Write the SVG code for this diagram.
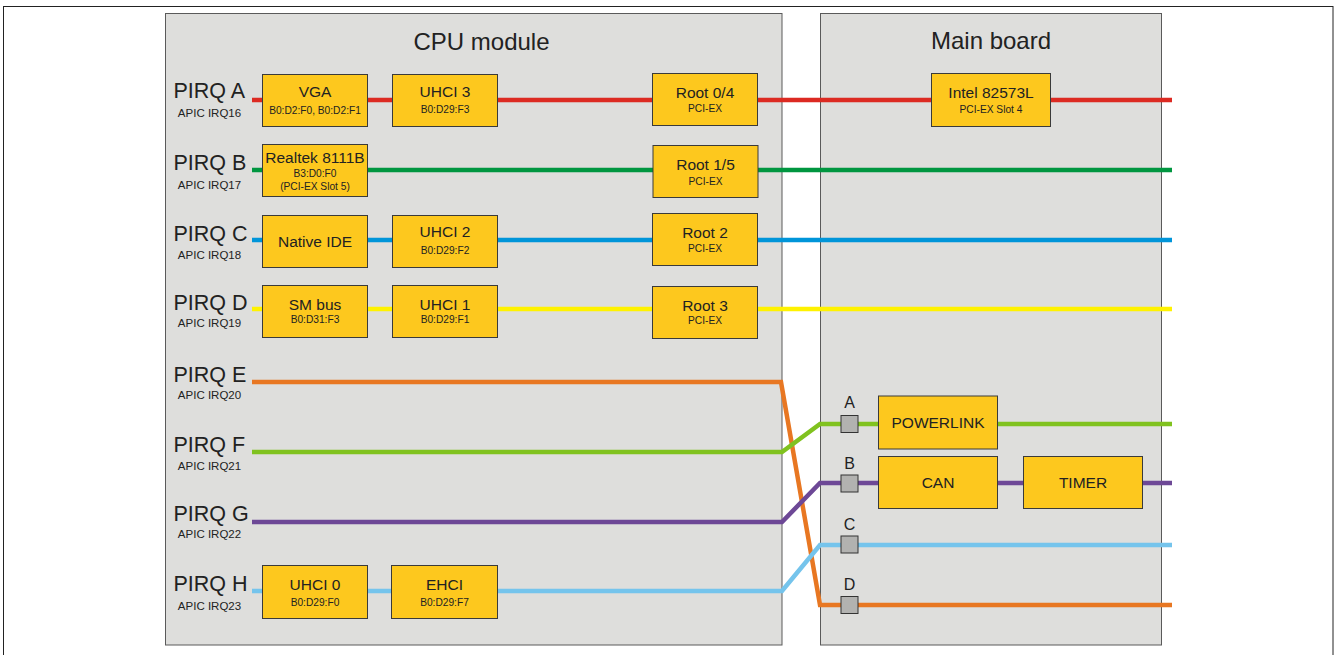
<svg xmlns="http://www.w3.org/2000/svg" width="1336" height="655" viewBox="0 0 1336 655">
<style>
text{font-family:"Liberation Sans",Arial,sans-serif;fill:#222}
.board{fill:#dededc;stroke:#5a5a5a;stroke-width:1}
.title{font-size:24px;text-anchor:middle}
.pirq{font-size:21.5px}
.apic{font-size:11.5px;text-anchor:middle}
.box{fill:#fdc81e;stroke:#3a3a3a;stroke-width:1}
.lbl{font-size:15.5px;text-anchor:middle}
.sub{font-size:10.2px;text-anchor:middle}
.ln{fill:none;stroke-width:4.5;stroke-linejoin:miter}
.sq{fill:#b2b2b0;stroke:#333;stroke-width:1}
.port{font-size:16px;text-anchor:middle}
</style>
<rect x="0" y="0" width="1336" height="655" fill="#fff"/>
<rect x="3.5" y="6.5" width="1329.5" height="660" fill="none" stroke="#222" stroke-width="1"/>
<g id="cpu-module">
<rect class="board" x="165.5" y="13.5" width="616.5" height="631.5"/>
<text class="title" x="481.5" y="50">CPU module</text>
<text class="pirq" x="173.5" y="98">PIRQ A</text><text class="apic" x="209.5" y="117">APIC IRQ16</text>
<text class="pirq" x="173.5" y="170">PIRQ B</text><text class="apic" x="209.5" y="189">APIC IRQ17</text>
<text class="pirq" x="173.5" y="241">PIRQ C</text><text class="apic" x="209.5" y="259">APIC IRQ18</text>
<text class="pirq" x="173.5" y="310">PIRQ D</text><text class="apic" x="209.5" y="327">APIC IRQ19</text>
<text class="pirq" x="173.5" y="382">PIRQ E</text><text class="apic" x="209.5" y="399">APIC IRQ20</text>
<text class="pirq" x="173.5" y="452">PIRQ F</text><text class="apic" x="209.5" y="470">APIC IRQ21</text>
<text class="pirq" x="173.5" y="521">PIRQ G</text><text class="apic" x="209.5" y="538">APIC IRQ22</text>
<text class="pirq" x="173.5" y="591">PIRQ H</text><text class="apic" x="209.5" y="610">APIC IRQ23</text>
</g>
<g id="main-board">
<rect class="board" x="820.5" y="13.5" width="341" height="631.5"/>
<text class="title" x="991" y="49">Main board</text>
</g>
<g id="connectors">
<polyline class="ln" stroke="#dc2a22" points="252,100 1172,100"/>
<polyline class="ln" stroke="#009640" points="252,170 1172,170"/>
<polyline class="ln" stroke="#0095d9" points="252,240 1172,240"/>
<polyline class="ln" stroke="#fff200" points="252,309 1172,309"/>
<polyline class="ln" stroke="#e87722" points="252,382 781,382 820,605 1172,605"/>
<polyline class="ln" stroke="#80c21f" points="252,452 782,452 820,424 1172,424"/>
<polyline class="ln" stroke="#6d4896" points="252,522 782,522 820,483 1172,483"/>
<polyline class="ln" stroke="#75c4ec" points="252,591 782,591 820,545 1172,545"/>
</g>
<g id="vga"><rect class="box" x="262.5" y="74.5" width="105" height="52"/><text class="lbl" x="315" y="97">VGA</text><text class="sub" x="315" y="114">B0:D2:F0, B0:D2:F1</text></g>
<g id="uhci3"><rect class="box" x="392.5" y="74.5" width="105" height="52"/><text class="lbl" x="445" y="97">UHCI 3</text><text class="sub" x="445" y="113">B0:D29:F3</text></g>
<g id="root04"><rect class="box" x="652.5" y="73.5" width="105" height="52"/><text class="lbl" x="705" y="98">Root 0/4</text><text class="sub" x="705" y="112">PCI-EX</text></g>
<g id="intel"><rect class="box" x="931.5" y="73.5" width="119" height="53"/><text class="lbl" x="991" y="98">Intel 82573L</text><text class="sub" x="991" y="113">PCI-EX Slot 4</text></g>
<g id="realtek"><rect class="box" x="262.5" y="144.5" width="105" height="52"/><text class="lbl" x="315" y="163">Realtek 8111B</text><text class="sub" x="315" y="177">B3:D0:F0</text><text class="sub" x="315" y="190">(PCI-EX Slot 5)</text></g>
<g id="root15"><rect class="box" x="653" y="145.5" width="105" height="52"/><text class="lbl" x="705.5" y="170">Root 1/5</text><text class="sub" x="705.5" y="185">PCI-EX</text></g>
<g id="nativeide"><rect class="box" x="262.5" y="215.5" width="105" height="52"/><text class="lbl" x="315" y="247">Native IDE</text></g>
<g id="uhci2"><rect class="box" x="392.5" y="215.5" width="105" height="52"/><text class="lbl" x="445" y="237">UHCI 2</text><text class="sub" x="445" y="254">B0:D29:F2</text></g>
<g id="root2"><rect class="box" x="652.5" y="213.5" width="105" height="52"/><text class="lbl" x="705" y="238">Root 2</text><text class="sub" x="705" y="252">PCI-EX</text></g>
<g id="smbus"><rect class="box" x="262.5" y="285.5" width="105" height="52"/><text class="lbl" x="315" y="310">SM bus</text><text class="sub" x="315" y="323">B0:D31:F3</text></g>
<g id="uhci1"><rect class="box" x="392.5" y="285.5" width="105" height="52"/><text class="lbl" x="445" y="310">UHCI 1</text><text class="sub" x="445" y="323">B0:D29:F1</text></g>
<g id="root3"><rect class="box" x="652.5" y="286.5" width="105" height="52"/><text class="lbl" x="705" y="311">Root 3</text><text class="sub" x="705" y="324">PCI-EX</text></g>
<g id="uhci0"><rect class="box" x="262.5" y="565.5" width="105" height="53"/><text class="lbl" x="315" y="590">UHCI 0</text><text class="sub" x="315" y="606">B0:D29:F0</text></g>
<g id="ehci"><rect class="box" x="391.5" y="565.5" width="106" height="53"/><text class="lbl" x="444.5" y="590">EHCI</text><text class="sub" x="444.5" y="606">B0:D29:F7</text></g>
<g id="port-a"><rect class="sq" x="841" y="415.5" width="17" height="17"/><text class="port" x="849.5" y="408">A</text></g>
<g id="port-b"><rect class="sq" x="841" y="475" width="17" height="17"/><text class="port" x="849.5" y="469">B</text></g>
<g id="port-c"><rect class="sq" x="841" y="536" width="17" height="17"/><text class="port" x="849.5" y="530">C</text></g>
<g id="port-d"><rect class="sq" x="841" y="596.5" width="17" height="17"/><text class="port" x="849.5" y="590">D</text></g>
<g id="powerlink"><rect class="box" x="878.5" y="396" width="119" height="53"/><text class="lbl" x="938" y="428">POWERLINK</text></g>
<g id="can"><rect class="box" x="878.5" y="456.5" width="119" height="52"/><text class="lbl" x="938" y="488">CAN</text></g>
<g id="timer"><rect class="box" x="1023.5" y="456.5" width="119" height="52"/><text class="lbl" x="1083" y="488">TIMER</text></g>
</svg>
